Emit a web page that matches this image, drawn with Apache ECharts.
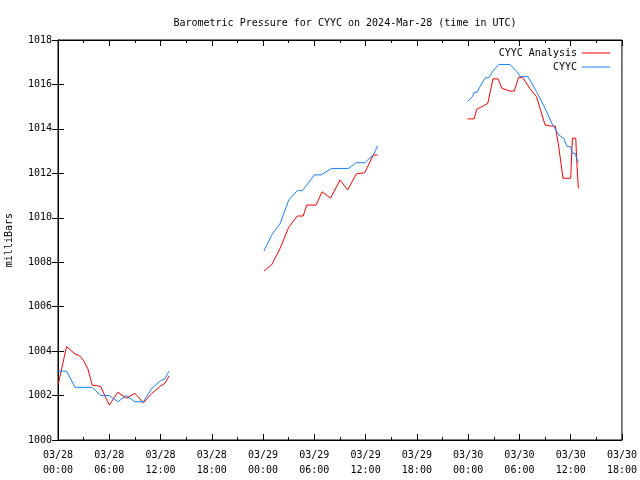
<!DOCTYPE html>
<html><head><meta charset="utf-8">
<script src="https://cdn.jsdelivr.net/npm/echarts@6/dist/echarts.min.js"></script>
<style>html,body{margin:0;padding:0;background:#fff}#c{width:640px;height:480px}</style>
</head><body><div id="c"></div>
<script>
// hours since 2024-03-28 00:00 UTC ; null = gap
const analysisX = [0,1,2,2.5,3,3.5,4,4.5,5,6,7,8,9,10,11,12,12.5,13, 18,
  24.1,25,26,27,28,28.7,29.1,30.2,30.9,31.9,33,33.9,34.9,35.9,36.9,37.4, 42,
  47.9,48.7,49,49.8,50.3,50.9,51.5,51.96,52.9,53.4,53.9,54.4,55.2,56,57,57.6,58.2,58.6,59.1,60,60.2,60.6,60.7,60.9];
const analysisY = [1002.47,1004.2,1003.87,1003.8,1003.57,1003.2,1002.47,1002.45,1002.4,1001.57,1002.15,1001.88,1002.1,1001.68,1002.1,1002.43,1002.55,1002.88, null,
  1007.6,1007.88,1008.63,1009.57,1010.08,1010.08,1010.57,1010.57,1011.17,1010.88,1011.7,1011.25,1011.97,1012.03,1012.83,1012.83, null,
  1014.45,1014.45,1014.88,1015.04,1015.15,1016.25,1016.25,1015.83,1015.7,1015.7,1016.32,1016.3,1015.83,1015.45,1014.18,1014.13,1014.13,1013.2,1011.78,1011.78,1013.58,1013.58,1012.6,1011.33];
const obsX = [0,1,2,3,4,5,6,7,8,9,10,11,12,12.5,13, 18,
  24.1,25,26,27,28,28.6,29.1,30,30.8,32,34,34.9,35.9,36.9,37.4, 42,
  48,48.5,48.7,49.05,49.3,50,50.4,51,51.6,52.9,53.7,54.1,55,56,57,57.8,58.6,59.2,59.6,60,60.2,60.5,60.9];
const obsY = [1003.1,1003.1,1002.37,1002.37,1002.37,1002.0,1002.0,1001.72,1002.0,1001.72,1001.72,1002.33,1002.67,1002.75,1003.1, null,
  1008.5,1009.22,1009.75,1010.8,1011.22,1011.22,1011.47,1011.93,1011.93,1012.22,1012.22,1012.48,1012.48,1012.83,1013.23, null,
  1015.26,1015.45,1015.65,1015.65,1015.85,1016.3,1016.3,1016.65,1016.9,1016.9,1016.57,1016.35,1016.35,1015.68,1014.93,1014.25,1013.73,1013.57,1013.2,1013.2,1012.9,1012.9,1012.48];
const seriesNames = ['CYYC Analysis','CYYC'];
const titleText = 'Barometric Pressure for CYYC on 2024-Mar-28 (time in UTC)';
const yLabel = 'milliBars';
const xMin = 0, xMax = 66, xStep = 6;
const yMin = 1000, yMax = 1018, yStep = 2;

const pair = (xs, ys) => xs.map((x, i) => [x, ys[i] === null ? '-' : ys[i]]);
const pad = n => (n < 10 ? '0' : '') + n;
const fmtX = v => '03/' + (28 + Math.floor(v / 24)) + '\n' + pad(v % 24) + ':00';
const FONT = 'DejaVu Sans Mono';
const txt = {color: '#000', fontFamily: FONT, fontSize: 10};

const chart = echarts.init(document.getElementById('c'));
chart.setOption({
  animation: false,
  backgroundColor: '#fff',
  title: {text: titleText, left: 340, top: 13, textAlign: 'center',
    textStyle: {color: '#000', fontFamily: FONT, fontSize: 10, fontWeight: 'normal'}},
  graphic: [{type: 'text', left: 4, top: 213, rotation: Math.PI / 2,
    style: {text: yLabel, fill: '#000', font: '10px ' + FONT}}],
  legend: {orient: 'vertical', right: 25, top: 43, align: 'right', itemGap: 4,
    itemWidth: 28, itemHeight: 1, icon: 'rect', textStyle: txt,
    data: seriesNames.map(n => ({name: n, icon: 'rect'}))},
  grid: {left: 58, right: 18, top: 40, bottom: 40, show: true, borderColor: '#000', borderWidth: 1},
  xAxis: [
    {type: 'value', min: xMin, max: xMax, interval: xStep, position: 'bottom',
     axisLine: {lineStyle: {color: '#000'}}, splitLine: {show: false},
     axisTick: {inside: true, length: 6, lineStyle: {color: '#000'}},
     minorTick: {show: true, splitNumber: 2, length: 3, lineStyle: {color: '#000'}},
     axisLabel: {formatter: fmtX, color: '#000', fontFamily: FONT, fontSize: 10, lineHeight: 15, margin: 8}},
    {type: 'value', min: xMin, max: xMax, interval: xStep, position: 'top',
     axisLine: {lineStyle: {color: '#000'}}, splitLine: {show: false},
     axisTick: {inside: true, length: 6, lineStyle: {color: '#000'}},
     minorTick: {show: true, splitNumber: 2, length: 3, lineStyle: {color: '#000'}},
     axisLabel: {show: false}}
  ],
  yAxis: [
    {type: 'value', min: yMin, max: yMax, interval: yStep, position: 'left',
     axisLine: {show: true, lineStyle: {color: '#000'}}, splitLine: {show: false},
     axisTick: {show: true, inside: true, length: 6, lineStyle: {color: '#000'}},
     axisLabel: {color: '#000', fontFamily: FONT, fontSize: 10, margin: 6, formatter: v => String(v)}},
    {type: 'value', min: yMin, max: yMax, interval: yStep, position: 'right',
     axisLine: {show: true, lineStyle: {color: '#000'}}, splitLine: {show: false},
     axisTick: {show: true, inside: true, length: 6, lineStyle: {color: '#000'}},
     axisLabel: {show: false}}
  ],
  series: [
    {name: seriesNames[0], type: 'line', data: pair(analysisX, analysisY), symbol: 'none',
     connectNulls: false, color: '#ff0000', lineStyle: {width: 1, color: '#ff0000'}},
    {name: seriesNames[1], type: 'line', data: pair(obsX, obsY), symbol: 'none',
     connectNulls: false, color: '#1580ff', lineStyle: {width: 1, color: '#1580ff'}}
  ]
});
</script></body></html>
